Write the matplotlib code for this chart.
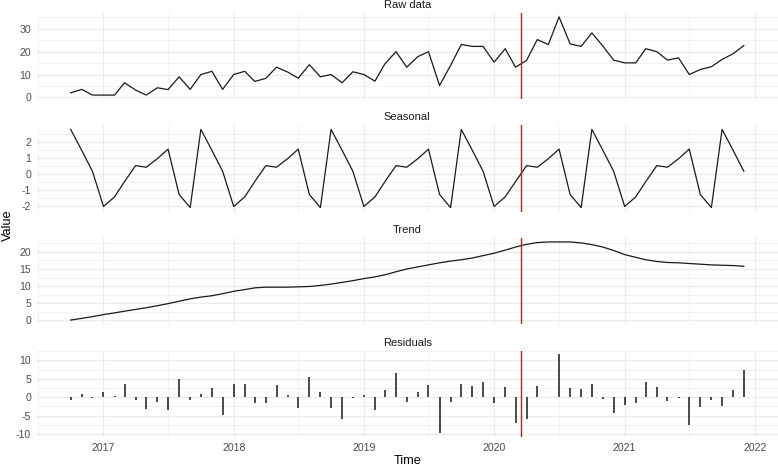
import pandas as pd
import matplotlib.pyplot as plt
import matplotlib.dates as mdates

plt.rcParams['font.family'] = ['Liberation Sans', 'DejaVu Sans']

# monthly series, Oct 2016 .. Dec 2021
months = pd.date_range('2016-10-01', '2021-12-01', freq='MS')
event_date = pd.Timestamp('2020-03-16')

raw = [2.0, 3.5, 1.0, 1.0, 1.0, 6.4, 3.2, 1.0, 4.2, 3.4, 9.0, 3.5,
       10.0, 11.4, 3.5, 10.0, 11.4, 7.0, 8.3, 13.2, 11.1, 8.4, 14.3, 9.0,
       10.0, 6.4, 11.2, 10.0, 7.1, 14.7, 20.0, 13.2, 17.8, 20.0, 5.2, 14.0,
       23.1, 22.3, 22.3, 15.4, 21.3, 13.2, 16.2, 25.3, 23.1, 35.2, 23.4, 22.3,
       28.2, 22.4, 16.3, 15.1, 15.1, 21.3, 20.0, 16.3, 17.3, 10.0, 12.2, 13.4,
       16.6, 19.1, 22.7]

seasonal = [2.76, 1.45, 0.15, -2.05, -1.45, -0.5, 0.5, 0.4, 0.93, 1.53, -1.3, -2.12,
            2.76, 1.45, 0.15, -2.05, -1.45, -0.5, 0.5, 0.4, 0.93, 1.53, -1.3, -2.12,
            2.76, 1.45, 0.15, -2.05, -1.45, -0.5, 0.5, 0.4, 0.93, 1.53, -1.3, -2.12,
            2.76, 1.45, 0.15, -2.05, -1.45, -0.5, 0.5, 0.4, 0.93, 1.53, -1.3, -2.12,
            2.76, 1.45, 0.15, -2.05, -1.45, -0.5, 0.5, 0.4, 0.93, 1.53, -1.3, -2.12,
            2.76, 1.45, 0.15]

trend = [0.1, 0.6, 1.1, 1.7, 2.2, 2.7, 3.2, 3.7, 4.3, 4.9, 5.6, 6.3,
         6.8, 7.2, 7.8, 8.5, 9.0, 9.5, 9.7, 9.7, 9.7, 9.8, 9.9, 10.2,
         10.6, 11.1, 11.6, 12.2, 12.7, 13.3, 14.2, 15.0, 15.6, 16.2, 16.8, 17.3,
         17.7, 18.2, 18.9, 19.6, 20.5, 21.4, 22.2, 22.7, 22.9, 22.9, 22.9, 22.6,
         22.1, 21.4, 20.4, 19.2, 18.4, 17.7, 17.2, 16.9, 16.8, 16.6, 16.4, 16.2,
         16.1, 16.0, 15.8]

residuals = [-0.7, 0.8, -0.3, 1.4, 0.35, 3.6, -0.7, -3.1, -1.3, -3.4, 4.9, -0.8,
             0.8, 2.4, -4.8, 3.6, 3.6, -1.5, -1.7, 3.3, 0.6, -2.8, 5.5, 1.4,
             -2.8, -5.9, -0.2, 0.5, -3.4, 2.0, 6.6, -1.3, 1.5, 3.3, -9.6, -1.3,
             3.5, 3.1, 4.0, -1.7, 2.8, -6.9, -5.8, 3.1, 0.1, 11.6, 2.5, 2.3,
             3.7, -0.5, -4.4, -2.2, -1.6, 4.0, 2.7, -1.0, -0.35, -7.6, -2.7, -0.7,
             -2.3, 2.0, 7.5]

titles = ['Raw data', 'Seasonal', 'Trend', 'Residuals']
yticks = [[0, 10, 20, 30], [-2, -1, 0, 1, 2], [0, 5, 10, 15, 20], [-10, -5, 0, 5, 10]]

W, H = 778, 468
fig = plt.figure(figsize=(W / 100, H / 100), dpi=100)

left, right = 37, 777.5
tops = [13, 125.5, 238, 350.5]
ph = 86

span = months[-1] - months[0]
xmin = mdates.date2num(months[0] - span * 0.05)
xmax = mdates.date2num(months[-1] + span * 0.05)

grid_c = '#EBEBEB'
years = pd.date_range('2017-01-01', '2022-01-01', freq='YS')
half_years = pd.date_range('2016-07-01', '2022-07-01', freq='12MS')

series = [raw, seasonal, trend, residuals]
axes = []
for k in range(4):
    top = tops[k]
    ax = fig.add_axes([left / W, 1 - (top + ph) / H, (right - left) / W, ph / H])
    axes.append(ax)
    vals = series[k]
    if k == 3:
        ax.vlines(months, 0, vals, color='#1A1A1A', linewidth=1.1, zorder=3)
    else:
        ax.plot(months, vals, color='#1A1A1A', linewidth=0.9, zorder=3)
    ax.axvline(event_date, color='#FF0000', linewidth=1.0, zorder=4)

    lo, hi = min(vals), max(vals)
    if k == 3:
        lo, hi = min(lo, 0), max(hi, 0)
    pad = (hi - lo) * 0.05
    ax.set_ylim(lo - pad, hi + pad)
    ax.set_xlim(xmin, xmax)

    # grid: major + minor
    yt = yticks[k]
    step = yt[1] - yt[0]
    for y in yt:
        ax.axhline(y, color=grid_c, linewidth=0.9, zorder=1)
    y0 = yt[0] - step / 2
    while y0 <= hi + pad:
        if y0 >= lo - pad:
            ax.axhline(y0, color=grid_c, linewidth=0.45, zorder=1)
        y0 += step
    for d in years:
        ax.axvline(d, color=grid_c, linewidth=0.9, zorder=1)
    for d in half_years:
        ax.axvline(d, color=grid_c, linewidth=0.45, zorder=1)

    ax.set_yticks(yt)
    ax.set_yticklabels([str(v) for v in yt])
    ax.set_xticks(years)
    if k == 3:
        ax.set_xticklabels([str(d.year) for d in years])
    else:
        ax.set_xticklabels([])
    ax.tick_params(length=0, labelsize=7.6, labelcolor='#4D4D4D')
    ax.tick_params(axis='y', pad=4.3)
    ax.tick_params(axis='x', pad=4.5)
    for s in ax.spines.values():
        s.set_visible(False)
    ax.set_facecolor('none')

    fig.text((left + right) / 2 / W, 1 - (top - 8) / H, titles[k],
             ha='center', va='center', fontsize=8, color='#1A1A1A')

fig.text((left + right) / 2 / W, 1 - 461 / H, 'Time', ha='center', va='center',
         fontsize=9.2, color='black')
fig.text(8 / W, 1 - 225 / H, 'Value', ha='center', va='center', rotation=90,
         fontsize=9.2, color='black')

fig.savefig('out.png', dpi=100, facecolor='white')
